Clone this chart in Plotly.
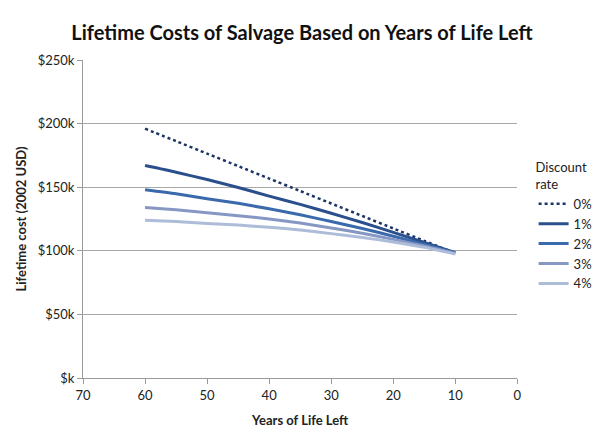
import plotly.graph_objects as go

years = [60, 55, 50, 45, 40, 35, 30, 25, 20, 15, 10]
rate_labels = ["0%", "1%", "2%", "3%", "4%"]
cost_0 = [196, 186.2, 176.4, 166.6, 156.8, 147, 137.2, 127.4, 117.6, 107.8, 98]
cost_1 = [167, 161.8, 156, 149.8, 143, 136.5, 129.5, 122.2, 114.5, 106.5, 98.5]
cost_2 = [148, 144.8, 141, 137.3, 133, 128.3, 123, 117.5, 111.5, 105, 98.3]
cost_3 = [134, 132.2, 130, 127.6, 125, 121.8, 118, 113.8, 109, 103.8, 98]
cost_4 = [124, 123, 121.5, 120.2, 118.5, 116.3, 113.5, 110.5, 107, 102.7, 97.5]

y_tickvals = [0, 50, 100, 150, 200, 250]
y_ticktext = ["$k", "$50k", "$100k", "$150k", "$200k", "$250k"]
x_tickvals = [70, 60, 50, 40, 30, 20, 10, 0]

series = [cost_0, cost_1, cost_2, cost_3, cost_4]
colors = ["#1c3566", "#2b4f8c", "#3a6aab", "#8797c4", "#adbdd9"]
dashes = ["dot", "solid", "solid", "solid", "solid"]
widths = [2.5, 3, 3, 3, 3]

fig = go.Figure()
for lab, vals, c, d, w in zip(rate_labels, series, colors, dashes, widths):
    fig.add_trace(go.Scatter(
        x=years, y=vals, name=lab, mode="lines",
        line=dict(color=c, dash=d, width=w, shape="spline", smoothing=0.6),
    ))

font_family = "Lato, Open Sans, sans-serif"
fig.update_layout(
    width=600, height=439,
    margin=dict(l=75, r=81, t=52, b=69),
    paper_bgcolor="white", plot_bgcolor="white",
    font=dict(family=font_family, size=13, color="#222"),
    title=dict(text="<b>Lifetime Costs of Salvage Based on Years of Life Left</b>",
               x=0.49, xanchor="center", y=0.958, yanchor="top",
               font=dict(size=20, color="#111")),
    showlegend=True,
    legend=dict(
        title=dict(text="Discount<br>rate", side="top", font=dict(size=13)),
        xref="container", yref="container",
        x=0.876, xanchor="left", y=0.665, yanchor="top",
        font=dict(size=13), tracegroupgap=0, itemwidth=30,
        bgcolor="rgba(0,0,0,0)",
    ),
    xaxis=dict(
        range=[70, 0], tickvals=x_tickvals, showgrid=False, zeroline=False,
        showline=True, linecolor="#9a9a9a", linewidth=1,
        ticks="outside", ticklen=5, tickcolor="#9a9a9a",
        title=dict(text="<b>Years of Life Left</b>", font=dict(size=13), standoff=14),
    ),
    yaxis=dict(
        range=[0, 250], tickvals=y_tickvals, ticktext=y_ticktext,
        showgrid=True, gridcolor="#a8a8a8", gridwidth=1, zeroline=False,
        showline=True, linecolor="#9a9a9a", linewidth=1,
        ticks="outside", ticklen=5, tickcolor="#9a9a9a",
        title=dict(text="<b>Lifetime cost (2002 USD)</b>", font=dict(size=13), standoff=8),
    ),
)

fig.write_html("out.html")
